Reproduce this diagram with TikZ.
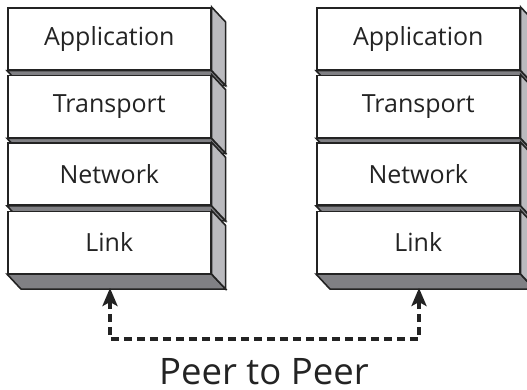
\documentclass[tikz,border=0pt]{standalone}
\usepackage{fontspec}
\setmainfont{Open Sans}
\usetikzlibrary{arrows.meta}

\definecolor{edgecol}{RGB}{35,35,35}
\definecolor{bottomface}{RGB}{128,128,132}
\definecolor{sideface}{RGB}{186,186,190}

\tikzset{
  layerbox/.style={draw=edgecol, fill=white, line width=1.6pt,
    minimum width=203pt, minimum height=62pt, anchor=north west,
    inner sep=0pt, font=\fontsize{25}{29}\selectfont, text=edgecol},
  bottomfacestyle/.style={fill=bottomface, draw=edgecol, line width=1.6pt, line join=miter},
  sidefacestyle/.style={fill=sideface, draw=edgecol, line width=1.6pt, line join=miter},
  peerlink/.style={draw=edgecol, line width=3.4pt, dash pattern=on 8pt off 5pt,
    {Stealth[length=18pt,width=15pt,inset=4pt]}-{Stealth[length=18pt,width=15pt,inset=4pt]}},
}

% one layer slab: front face plus the bottom and right faces behind it
\newcommand\layerslab[4]{%
  \node[layerbox] (#3) at (#1,#2) {#4};
  \path[bottomfacestyle] (#3.south west) -- (#3.south east)
     -- ++(14,15) -- ([shift={(14,15)}]#3.south west) -- cycle;
  \path[sidefacestyle] (#3.north east) -- ++(14,15)
     -- ([shift={(14,15)}]#3.south east) -- (#3.south east) -- cycle;
  \node[layerbox] at (#1,#2) {#4};
}

\begin{document}
\begin{tikzpicture}[x=1pt,y=-1pt]
  \clip (0,0) rectangle (527,389);

  % left host
  \layerslab{7}{7}{appL}{Application}
  \layerslab{7}{74.7}{traL}{Transport}
  \layerslab{7}{142.3}{netL}{Network}
  \layerslab{7}{210.5}{linkL}{Link}

  % right host
  \layerslab{316}{7}{appR}{Application}
  \layerslab{316}{74.7}{traR}{Transport}
  \layerslab{316}{142.3}{netR}{Network}
  \layerslab{316}{210.5}{linkR}{Link}

  % peer-to-peer connection between the link layers
  \coordinate (tipL) at (110,288);
  \coordinate (tipR) at (419,288);
  \coordinate (cornerL) at (110,339);
  \coordinate (cornerR) at (419,339);
  \draw[peerlink] (tipL) -- (cornerL) -- (cornerR) -- (tipR);

  \node[anchor=base, font=\fontsize{36.5}{42}\selectfont, text=edgecol] (peer) at (264,384) {Peer to Peer};
\end{tikzpicture}
\end{document}
